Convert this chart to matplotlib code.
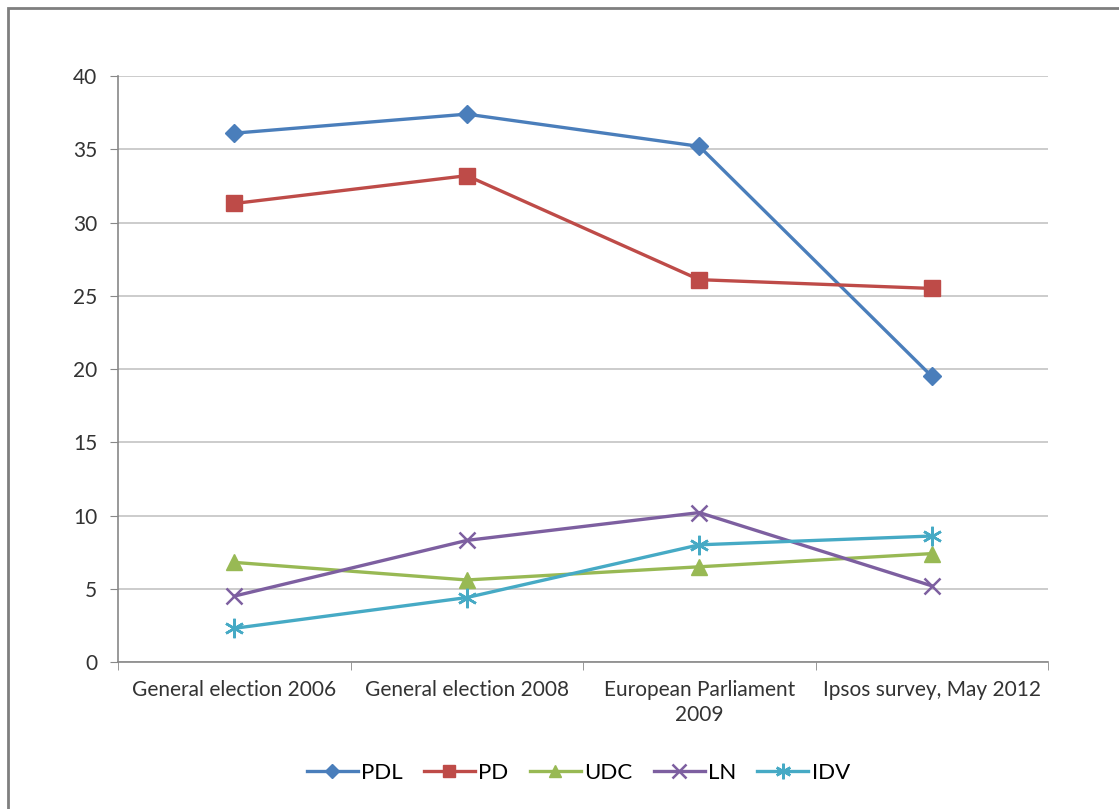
import matplotlib.pyplot as plt
from matplotlib.patches import Rectangle

categories = ["General election 2006", "General election 2008",
              "European Parliament\n2009", "Ipsos survey, May 2012"]
pdl = [36.1, 37.4, 35.2, 19.5]
pd_ = [31.3, 33.2, 26.1, 25.5]
udc = [6.8, 5.6, 6.5, 7.4]
ln = [4.5, 8.3, 10.2, 5.2]
idv = [2.3, 4.4, 8.0, 8.6]

series = [("PDL", pdl, "#4A7EBB", "D", 9),
          ("PD", pd_, "#BE4B48", "s", 11),
          ("UDC", udc, "#98B954", "^", 11),
          ("LN", ln, "#7D5FA0", "x", 12),
          ("IDV", idv, "#46AAC5", (6, 2, 0), 14)]

plt.rcParams['font.family'] = ['Lato', 'DejaVu Sans']

fig = plt.figure(figsize=(11.19, 8.09), dpi=100)
ax = fig.add_axes([0.1055, 0.1817, 0.8311, 0.7243])

x = range(len(categories))
for name, vals, col, mk, ms in series:
    ax.plot(x, vals, color=col, lw=2.4, marker=mk, markersize=ms,
            markeredgewidth=1.8 if mk in ("x", (6, 2, 0)) else 1,
            markeredgecolor=col, markerfacecolor=col, label=name)

ax.set_xlim(-0.5, 3.5)
ax.set_ylim(0, 40)
ax.set_yticks(range(0, 41, 5))
ax.set_xticks(list(x))
ax.set_xticklabels(categories, fontsize=15, color="#333333", linespacing=1.3)
ax.set_xticks([-0.5, 0.5, 1.5, 2.5, 3.5], minor=True)
ax.tick_params(axis="x", which="major", length=0, pad=13)
ax.tick_params(axis="x", which="minor", length=6, color="#888888", direction="out")
ax.tick_params(axis="y", length=6, color="#888888", labelsize=15, labelcolor="#333333", pad=9)
ax.grid(axis="y", color="#C8C8C8", lw=1.3)
ax.set_axisbelow(True)
for s in ["top", "right"]:
    ax.spines[s].set_visible(False)
for s in ["left", "bottom"]:
    ax.spines[s].set_color("#888888")
    ax.spines[s].set_linewidth(1.2)

ax.legend(loc="center", bbox_to_anchor=(0.495, -0.189), ncol=5, frameon=False,
          fontsize=16, handlelength=2.3, handletextpad=0.15, columnspacing=0.95,
          markerscale=0.8)

fig.patches.append(Rectangle((8 / 1119, -0.1), 1.2, 1 - 8 / 809 + 0.1,
                             transform=fig.transFigure, fill=False,
                             edgecolor="#7F7F7F", lw=2))

fig.savefig("out.png", dpi=100)
